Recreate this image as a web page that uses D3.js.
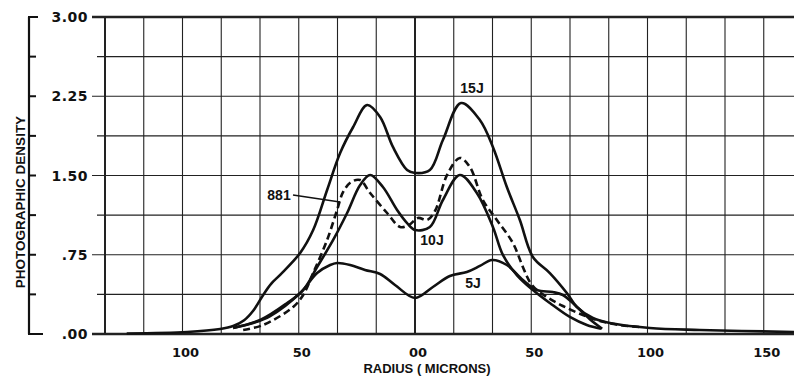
<!DOCTYPE html>
<html>
<head>
<meta charset="utf-8">
<script src="https://cdn.jsdelivr.net/npm/d3@7"></script>
<style>
  body { margin: 0; background: #fff; }
  svg text { font-family: "Liberation Sans", Arial, sans-serif; font-weight: bold; fill: #111; }
  svg text.num { font-family: "DejaVu Sans", sans-serif; }
</style>
</head>
<body>
<div id="chart"></div>
<script>
// radius (microns), density
let r15 = [-124, -98, -83.8, -78.2, -73.5, -69.6, -65.3, -61.9, -58, -49.4, -43.8, -37.8, -32.2, -26.6, -20.6, -15, -9.5, -3.4, 0, 6.4, 12, 19.8, 27.9, 33.5, 39.5, 45.1, 50.7, 58, 65.3, 69.6, 76.5, 83.8, 101, 122.5, 163];
let d15 = [0.005, 0.019, 0.047, 0.075, 0.13, 0.22, 0.37, 0.475, 0.56, 0.767, 0.984, 1.363, 1.713, 1.959, 2.167, 2.054, 1.77, 1.552, 1.524, 1.552, 1.836, 2.186, 2.025, 1.77, 1.391, 1.079, 0.729, 0.577, 0.388, 0.256, 0.151, 0.104, 0.057, 0.038, 0.019];

let r10 = [-78.2, -66.6, -55, -48.1, -42.1, -35.2, -29.2, -23.6, -19.3, -13.8, -7.7, -3.4, 0, 6.4, 12, 19.3, 26.6, 33.5, 37.8, 43.8, 50.7, 58, 66.6, 73.9, 80];
let d10 = [0.057, 0.132, 0.293, 0.416, 0.634, 0.89, 1.145, 1.41, 1.505, 1.391, 1.174, 1.05, 0.984, 1.013, 1.268, 1.505, 1.334, 1.013, 0.748, 0.558, 0.416, 0.293, 0.161, 0.085, 0.05];

let r881 = [-73.9, -65.3, -52.4, -48.1, -43.8, -37.8, -33.5, -30.9, -27.5, -23.6, -19.3, -12, -6.4, -2.6, 1.3, 5.2, 8.6, 13.8, 19.3, 23.6, 29.2, 35.2, 42.1, 46.4, 49.4, 52.4, 56.7, 63.6, 72.2, 79.5, 88.1, 96.7];
let d881 = [0.038, 0.085, 0.256, 0.369, 0.577, 0.89, 1.174, 1.344, 1.438, 1.457, 1.334, 1.145, 1.013, 1.032, 1.098, 1.079, 1.164, 1.505, 1.666, 1.58, 1.268, 1.079, 0.861, 0.634, 0.492, 0.416, 0.35, 0.265, 0.18, 0.123, 0.085, 0.066];

let r5 = [-78.2, -69.6, -62.3, -49.4, -42.1, -36.5, -33.5, -27.9, -21.5, -15, -8.6, 0, 7.7, 15, 22.3, 27.9, 33.1, 39.5, 46.4, 52.4, 59.3, 63.6, 68.8, 75.2, 80.5];
let d5 = [0.057, 0.104, 0.17, 0.388, 0.577, 0.653, 0.672, 0.653, 0.606, 0.568, 0.464, 0.341, 0.445, 0.549, 0.587, 0.644, 0.7, 0.653, 0.511, 0.416, 0.397, 0.369, 0.274, 0.14, 0.05];

let yTickLabels = [[0, ".00"], [0.75, ".75"], [1.5, "1.50"], [2.25, "2.25"], [3, "3.00"]];
let xTickLabels = [[-100, "100"], [-50, "50"], [0, "00"], [50, "50"], [100, "100"], [150, "150"]];

let width = 794, height = 378;

let svg = d3.select("#chart")
    .append("svg")
    .attr("width", width)
    .attr("height", height);

let x = d3.scaleLinear().domain([-400 / 3, 500 / 3]).range([105, 802.5]);
let y = d3.scaleLinear().domain([0, 3]).range([334, 17]);

// grid
let xGrid = d3.range(-8, 11).map(function (i) { return i * 50 / 3; });
let yGrid = d3.range(0, 9).map(function (i) { return i * 0.375; });

svg.selectAll(".vgrid")
    .data(xGrid)
    .enter()
    .append("line")
    .attr("x1", function (d) { return x(d); })
    .attr("x2", function (d) { return x(d); })
    .attr("y1", y(3))
    .attr("y2", y(0))
    .attr("stroke", "#222")
    .attr("stroke-width", function (d) { return (Math.abs(d) < 0.01 || d < -133) ? 2 : 1.1; });

svg.selectAll(".hgrid")
    .data(yGrid)
    .enter()
    .append("line")
    .attr("x1", function (d) { return (Math.round(d / 0.375) % 2 === 0) ? 92 : 97; })
    .attr("x2", width)
    .attr("y1", function (d) { return y(d); })
    .attr("y2", function (d) { return y(d); })
    .attr("stroke", "#222")
    .attr("stroke-width", function (d) { return (d === 0 || d === 3) ? 2.4 : 1.1; });

// left bracket axis
svg.append("line")
    .attr("x1", 29).attr("x2", 29)
    .attr("y1", y(3)).attr("y2", y(0))
    .attr("stroke", "#111").attr("stroke-width", 2.2);

svg.selectAll(".ltick")
    .data(yGrid)
    .enter()
    .append("line")
    .attr("x1", 28)
    .attr("x2", function (d) { return d === 0 ? 43 : (d === 3 ? 38 : 36); })
    .attr("y1", function (d) { return y(d); })
    .attr("y2", function (d) { return y(d); })
    .attr("stroke", "#111")
    .attr("stroke-width", 2);

svg.selectAll(".ylab")
    .data(yTickLabels)
    .enter()
    .append("text")
    .attr("class", "num")
    .attr("x", 88)
    .attr("y", function (d) { return y(d[0]) + 5; })
    .attr("text-anchor", "end")
    .attr("font-size", "14px")
    .attr("letter-spacing", "0.5px")
    .text(function (d) { return d[1]; });

svg.selectAll(".xlab")
    .data(xTickLabels)
    .enter()
    .append("text")
    .attr("class", "num")
    .attr("x", function (d) { return x(d[0]) + 3; })
    .attr("y", 357)
    .attr("text-anchor", "middle")
    .attr("font-size", "13px")
    .text(function (d) { return d[1]; });

svg.append("text")
    .attr("transform", "translate(25,202) rotate(-90)")
    .attr("text-anchor", "middle")
    .attr("font-size", "13.5px")
    .text("PHOTOGRAPHIC DENSITY");

svg.append("text")
    .attr("x", 427)
    .attr("y", 373)
    .attr("text-anchor", "middle")
    .attr("font-size", "13px")
    .text("RADIUS ( MICRONS)");

// curves
let line = d3.line()
    .x(function (d) { return x(d[0]); })
    .y(function (d) { return y(d[1]); })
    .curve(d3.curveCatmullRom.alpha(0.5));

let series = [
    { r: r15, d: d15, dash: null },
    { r: r10, d: d10, dash: null },
    { r: r5, d: d5, dash: null },
    { r: r881, d: d881, dash: "7,4" }
];

series.forEach(function (s) {
    svg.append("path")
        .datum(d3.zip(s.r, s.d))
        .attr("d", line)
        .attr("fill", "none")
        .attr("stroke", "#111")
        .attr("stroke-width", 2.6)
        .attr("stroke-dasharray", s.dash);
});

// curve labels
let labels = [[472, 93, "15J"], [432, 245, "10J"], [473, 288, "5J"], [279, 200, "881"]];
svg.selectAll(".clab")
    .data(labels)
    .enter()
    .append("text")
    .attr("x", function (d) { return d[0]; })
    .attr("y", function (d) { return d[1]; })
    .attr("text-anchor", "middle")
    .attr("font-size", "14px")
    .text(function (d) { return d[2]; });

svg.append("line")
    .attr("x1", 293).attr("y1", 195)
    .attr("x2", 340).attr("y2", 202)
    .attr("stroke", "#111").attr("stroke-width", 1.4);
</script>
</body>
</html>
